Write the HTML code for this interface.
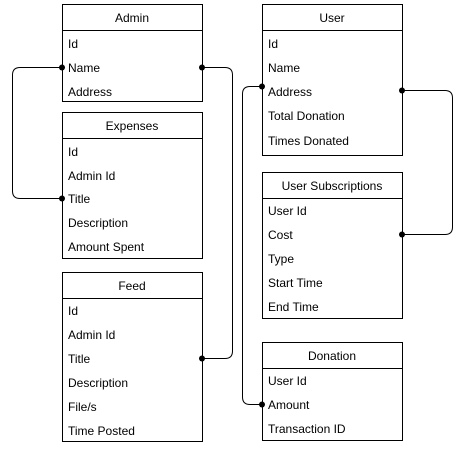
<!DOCTYPE html>
<html><head><style>body{margin:0;background:#fff}svg{display:block}text{font-family:"Liberation Sans",Arial,sans-serif;font-size:12px;fill:#000}</style></head><body>
<svg width="468" height="452" xmlns="http://www.w3.org/2000/svg">
<g fill="none" stroke="#000" stroke-width="1">
<rect x="62.5" y="4.5" width="140" height="97"/><line x1="62" y1="30.5" x2="202" y2="30.5"/>
<rect x="62.5" y="112.5" width="140" height="146"/><line x1="62" y1="138.5" x2="202" y2="138.5"/>
<rect x="62.5" y="272.5" width="140" height="169"/><line x1="62" y1="298.5" x2="202" y2="298.5"/>
<rect x="262.5" y="4.5" width="140" height="151"/><line x1="262" y1="30.5" x2="402" y2="30.5"/>
<rect x="262.5" y="172.5" width="140" height="146"/><line x1="262" y1="198.5" x2="402" y2="198.5"/>
<rect x="262.5" y="342.5" width="140" height="98"/><line x1="262" y1="368.5" x2="402" y2="368.5"/>
<path d="M62 67.5 H20 Q12.5 67.5 12.5 75 V191 Q12.5 198.5 20 198.5 H62"/>
<path d="M202 67.5 H225 Q232.5 67.5 232.5 75 V351 Q232.5 358.5 225 358.5 H202"/>
<path d="M262 86.5 H250 Q242.5 86.5 242.5 94 V397 Q242.5 404.5 250 404.5 H262"/>
<path d="M402 90.5 H445 Q452.5 90.5 452.5 98 V227 Q452.5 234.5 445 234.5 H402"/>
</g>
<g fill="#000">
<circle cx="62" cy="67.5" r="3"/><circle cx="62" cy="198.5" r="3"/>
<circle cx="202" cy="67.5" r="3"/><circle cx="202" cy="358.5" r="3"/>
<circle cx="262" cy="86.5" r="3"/><circle cx="262" cy="404.5" r="3"/>
<circle cx="402" cy="90.5" r="3"/><circle cx="402" cy="234.5" r="3"/>
</g>
<g text-anchor="middle">
<text x="132" y="22">Admin</text><text x="132" y="130">Expenses</text><text x="132" y="290">Feed</text>
<text x="332" y="22">User</text><text x="332" y="190">User Subscriptions</text><text x="332" y="360">Donation</text>
</g>
<g>
<text x="68" y="48">Id</text><text x="68" y="72">Name</text><text x="68" y="96">Address</text>
<text x="68" y="156">Id</text><text x="68" y="180">Admin Id</text><text x="68" y="203">Title</text><text x="68" y="227">Description</text><text x="68" y="251">Amount Spent</text>
<text x="68" y="315">Id</text><text x="68" y="339">Admin Id</text><text x="68" y="363">Title</text><text x="68" y="387">Description</text><text x="68" y="411">File/s</text><text x="68" y="435">Time Posted</text>
<text x="268" y="48">Id</text><text x="268" y="72">Name</text><text x="268" y="96">Address</text><text x="268" y="120">Total Donation</text><text x="268" y="145">Times Donated</text>
<text x="268" y="215">User Id</text><text x="268" y="239">Cost</text><text x="268" y="263">Type</text><text x="268" y="287">Start Time</text><text x="268" y="311">End Time</text>
<text x="268" y="385">User Id</text><text x="268" y="409">Amount</text><text x="268" y="433">Transaction ID</text>
</g>
</svg>
</body></html>
